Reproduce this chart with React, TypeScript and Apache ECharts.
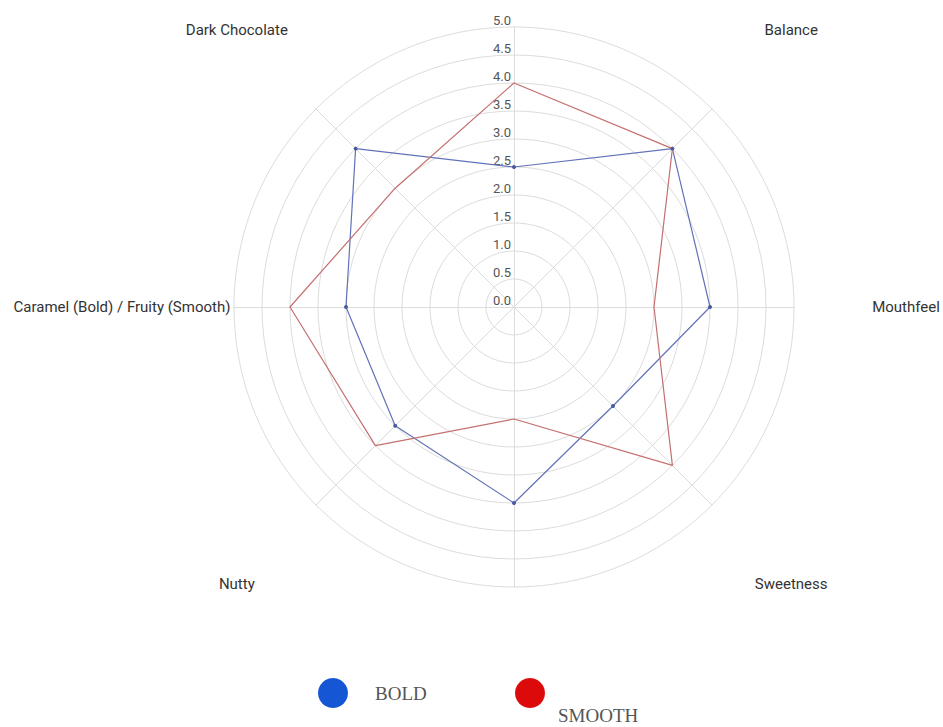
import React, { useEffect, useRef } from "react";
import * as echarts from "echarts";

// Axes in ECharts radar order (counter-clockwise from the top)
const axisNames = [
  "",
  "Dark Chocolate",
  "Caramel (Bold) / Fruity (Smooth)",
  "Nutty",
  "",
  "Sweetness",
  "Mouthfeel",
  "Balance",
];
const boldValues = [2.5, 4.0, 3.0, 3.0, 3.5, 2.5, 3.5, 4.0];
const smoothValues = [4.0, 3.0, 4.0, 3.5, 2.0, 4.0, 2.5, 4.0];
const seriesNames = ["BOLD", "SMOOTH"];
const scaleMin = 0;
const scaleMax = 5;
const scaleSteps = 10;

export default function App() {
  const ref = useRef<HTMLDivElement>(null);

  useEffect(() => {
    if (!ref.current) return;
    const chart = echarts.init(ref.current, undefined, { renderer: "svg" });
    chart.setOption({
      animation: false,
      backgroundColor: "#ffffff",
      textStyle: { fontFamily: "Roboto" },
      legend: [
        {
          data: [{ name: seriesNames[0], itemStyle: { color: "#1556d4" } }],
          left: 318,
          top: 678,
          padding: 0,
          icon: "circle",
          itemWidth: 30,
          itemHeight: 30,
          textStyle: {
            fontFamily: "Liberation Serif",
            fontSize: 19,
            color: "#555",
            padding: [0, 0, 0, 22],
          },
        },
        {
          data: [{ name: seriesNames[1], itemStyle: { color: "#dc0a0a" } }],
          left: 515,
          top: 649,
          padding: 0,
          icon: "circle",
          itemWidth: 30,
          itemHeight: 30,
          formatter: (n: string) => "\n" + n,
          textStyle: {
            fontFamily: "Liberation Serif",
            fontSize: 19,
            lineHeight: 44,
            color: "#555",
            padding: [0, 0, 0, 8],
          },
        },
      ],
      radar: {
        center: [514, 307],
        radius: 280,
        startAngle: 90,
        shape: "circle",
        splitNumber: scaleSteps,
        nameGap: 112,
        indicator: axisNames.map((n, i) => ({
          name: n,
          min: scaleMin,
          max: scaleMax,
          ...(i === 0 ? { axisLabel: { show: true } } : {}),
        })),
        axisName: {
          color: "#333",
          fontSize: 15,
          fontFamily: "Roboto",
          align: "center",
          verticalAlign: "middle",
        },
        axisLine: { lineStyle: { color: "#dcdcdc", width: 1 } },
        splitLine: { lineStyle: { color: "#dcdcdc", width: 1 } },
        splitArea: { show: false },
        axisTick: { show: false },
        axisLabel: {
          show: false,
          color: "#555",
          fontSize: 13,
          margin: 3,
          verticalAlign: "bottom",
          formatter: (v: number) => v.toFixed(1),
        },
      },
      series: [
        {
          type: "radar",
          data: [
            {
              name: seriesNames[0],
              value: boldValues,
              symbol: "circle",
              symbolSize: 4,
              lineStyle: { color: "#6172b8", width: 1.2 },
              itemStyle: { color: "#4a5aa0" },
            },
            {
              name: seriesNames[1],
              value: smoothValues,
              symbol: "none",
              lineStyle: { color: "#c4706f", width: 1.2 },
              itemStyle: { color: "#c4706f" },
            },
          ],
        },
      ],
    });
    return () => chart.dispose();
  }, []);

  return (
    <div
      ref={ref}
      style={{ position: "fixed", left: 0, top: 0, width: 943, height: 727 }}
    />
  );
}
